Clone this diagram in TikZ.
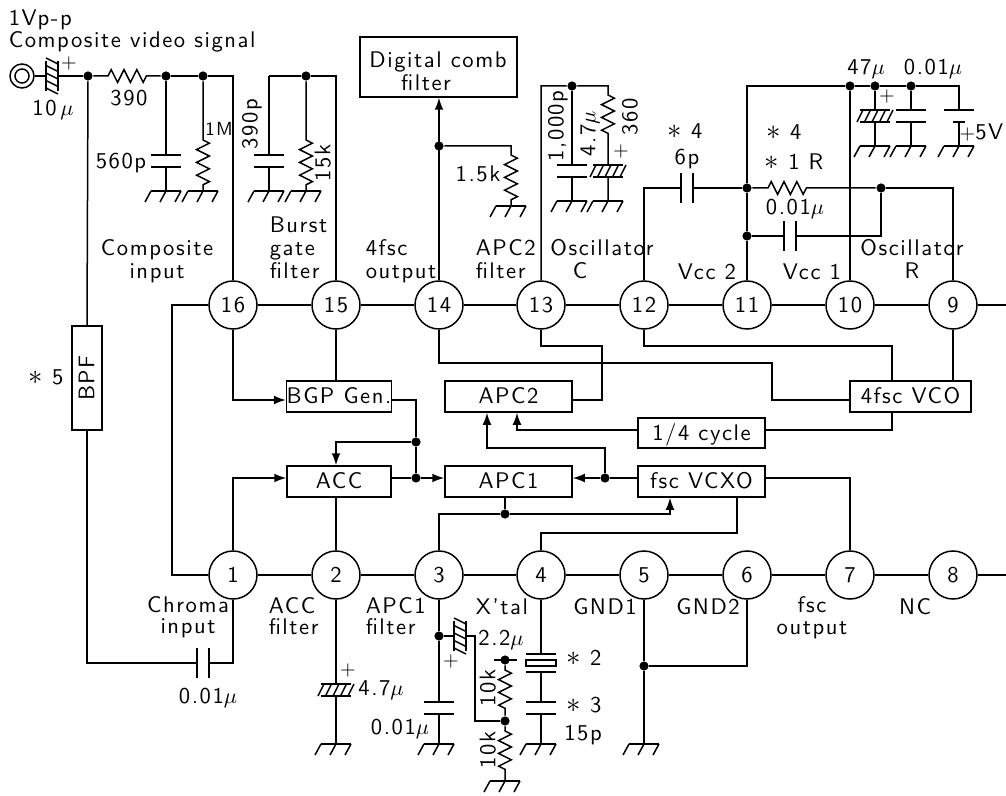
\documentclass[tikz,border=0pt]{standalone}
\usepackage{fontspec}
\setmainfont[LetterSpace=7]{lmsans10-regular.otf}
\usetikzlibrary{positioning,calc}
\usetikzlibrary{arrows.meta}
\usetikzlibrary{decorations.pathmorphing}
\newcommand{\um}{$\mu$}
\newcommand{\mstar}{{\fontsize{14}{14}\selectfont$\ast$}}
\tikzstyle{lab} = [inner sep=0pt, text height=7.4pt, text depth=0pt]
\tikzstyle{plusmark} = [inner sep=0pt, text height=4.8pt, text depth=0pt, font=\fontsize{10}{10}\selectfont]
\tikzstyle{pinnode} = [circle, draw=black, minimum size=24pt, inner sep=0pt, text height=7.4pt, text depth=0pt, fill=white]
\tikzstyle{blockbox} = [rectangle, draw=black, inner sep=0pt, text height=7.4pt, text depth=0pt]
\tikzstyle{dot} = [circle, fill=black, minimum size=4.6pt, inner sep=0pt]
\tikzstyle{arrow} = [->,>={Latex[length=6pt,width=4.4pt]}]
\tikzstyle{res} = [decoration={zigzag,amplitude=3.2pt,segment length=6.4pt}]
\tikzset{
	gnd/.pic={
		\draw (-15,0) -- (15,0);
		\draw (-15,0) -- (-21,11);
		\draw (0,0) -- (-6,11);
		\draw (15,0) -- (9,11);
	},
	capv/.pic={
		\fill[white] (-15,-5.5) rectangle (15,5.5);
		\draw (-15,-6) -- (15,-6);
		\draw (-15,6) -- (15,6);
	},
	elec/.pic={
		\fill[white] (-15,-5.5) rectangle (15,5.5);
		\draw (-15,-6) -- (15,-6);
		\draw (-15,6) -- (15,6);
		\foreach \s in {-15,-7.5,0,7.5,15}
			\draw (\s-3,6) -- (\s+3,-6);
	},
	xtal/.pic={
		\fill[white] (-15,-8.5) rectangle (15,8.5);
		\draw (-15,-9) -- (15,-9);
		\draw (-15,9) -- (15,9);
		\draw (-15,-3) rectangle (15,3);
	},
	batt/.pic={
		\fill[white] (-15,-5.5) rectangle (15,5.5);
		\draw (-15,-6) -- (15,-6);
		\draw (-6,6) -- (6,6);
	}
}

\begin{document}
\begin{tikzpicture}[x=0.5pt,y=-0.5pt,line width=0.75pt,every node/.style={font=\fontsize{11.3}{11.3}\selectfont}]
	\useasboundingbox (0,0) rectangle (1006,796);
	\foreach \n/\x in {16/233,15/336,14/439,13/541,12/644,11/747,10/850,9/953}
		\node (pin\n) at (\x,305) [pinnode] {\n};
	\foreach \n/\x in {1/233,2/336,3/439,4/541,5/644,6/747,7/850,8/953}
		\node (pin\n) at (\x,575) [pinnode] {\n};
	\foreach \a/\b in {16/15,15/14,14/13,13/12,12/11,11/10,10/9,1/2,2/3,3/4,4/5,5/6,6/7,7/8}
		\draw (pin\a) -- (pin\b);
	\coordinate (edgeT) at (1006,305);
	\coordinate (edgeB) at (1006,575);
	\coordinate (railL) at (172,305);
	\draw (pin9) -- (edgeT);
	\draw (pin8) -- (edgeB);
	\draw (pin16) -- (railL) |- (pin1);
	
	\node (bgp) at (339,396.5) [blockbox, minimum width=52pt, minimum height=15.5pt] {BGP Gen.};
	\node (apc2) at (508.5,396.5) [blockbox, minimum width=63.5pt, minimum height=15.5pt] {APC2};
	\node (acc) at (339,481.5) [blockbox, minimum width=52pt, minimum height=15.5pt] {ACC};
	\node (apc1) at (508.5,481.5) [blockbox, minimum width=63.5pt, minimum height=15.5pt] {APC1};
	\node (cycle) at (701.5,433) [blockbox, minimum width=63.5pt, minimum height=15pt] {1/4 cycle};
	\node (vcxo) at (701.5,481.5) [blockbox, minimum width=63.5pt, minimum height=15.5pt] {fsc VCXO};
	\node (vco) at (910.5,396.5) [blockbox, minimum width=60.5pt, minimum height=15.5pt] {4fsc VCO};
	\node (comb) at (438.5,67) [rectangle, draw=black, minimum width=78.5pt, minimum height=30pt] {};
	\node (combA) at (438,60) [lab] {Digital comb};
	\node (combB) at (426,83) [lab] {filter};
	
	\coordinate (ya) at (0,400);
	\coordinate (yb) at (0,478);
	\node (d1) at (416,442) [dot] {};
	\node (d2) at (416,478) [dot] {};
	\node (d3) at (605,478) [dot] {};
	\node (d4) at (505,514) [dot] {};
	\coordinate (a1) at (487,448);
	\coordinate (a2) at (517,430);
	\coordinate (a3) at (670,514);
	\coordinate (a4) at (737,533);
	\coordinate (a5) at (772,363);
	\coordinate (a6) at (892,346);
	\coordinate (a7) at (602,346);
	\draw[arrow] (pin16.south) |- (bgp.west |- ya);
	\draw (pin15.south) -- (pin15.south |- bgp.north);
	\draw (bgp.east |- ya) -| (d1) -- (d2);
	\draw[arrow] (d1) -| (pin2 |- acc.north);
	\draw[arrow] (pin1.north) |- (acc.west |- yb);
	\draw (acc.east |- yb) -- (d2);
	\draw[arrow] (d2) -- (apc1.west |- yb);
	\draw (pin2 |- acc.south) -- (pin2.north);
	\draw[arrow] (vcxo.west |- yb) -- (d3) -- (apc1.east |- yb);
	\draw[arrow] (d3) |- (a1) -- (a1 |- apc2.south);
	\draw[arrow] (cycle.west |- a2) -- (a2) -- (a2 |- apc2.south);
	\draw (cycle.east |- a2) -| (vco.south -| a6);
	\draw (apc1.south -| d4) -- (d4);
	\draw (pin3.north) |- (d4);
	\draw[arrow] (d4) -- (a3) -- (a3 |- vcxo.south);
	\draw (pin4.north) |- (a4) -- (a4 |- vcxo.south);
	\draw (vcxo.east |- yb) -| (pin7.north);
	\draw (pin12.south) |- (a6) -- (a6 |- vco.north);
	\draw (pin9.south) -- (pin9.south |- vco.north);
	\draw (vco.west |- ya) -| (a5) -| (pin14.south);
	\draw (apc2.east |- ya) -| (a7) -| (pin13.south);
	
	\node (jack) at (22,76) [circle, draw=black, minimum size=12pt, inner sep=0pt] {};
	\node (jackin) at (22,76) [circle, draw=black, minimum size=7pt, inner sep=0pt] {};
	\node (d5) at (88,76) [dot] {};
	\node (d6) at (166,76) [dot] {};
	\node (d7) at (203,76) [dot] {};
	\node (d8) at (306,76) [dot] {};
	\node (bpf) at (87,378) [rectangle, draw=black, fill=white, minimum width=15pt, minimum height=52pt] {};
	\node (bpft) at (87,378) [lab, rotate=90] {BPF};
	\coordinate (c1) at (233,663);
	\coordinate (c2) at (233,76);
	\coordinate (c3) at (269,76);
	\coordinate (c4) at (336,76);
	\draw (jack) -- (d5);
	\draw (d5) -- (108,76) decorate[res] {-- (152,76)} -- (d6);
	\draw (d6) -- (d7) -- (c2) -- (pin16.north);
	\draw (d5) -- (bpf.north);
	\draw (bpf.south) |- (c1) -- (pin1.south);
	\draw (pin15.north) -- (c4) -- (d8) -- (c3);
	\foreach \n/\x/\y in {a/166/191,b/203/191,c/269/191,d/306/191,e/511/206,f/572/201,g/608/201,h/875/146,i/911/146,j/959/146,k/336/744,l/439/744,m/541/744,n/644/744,o/505/781}{
		\coordinate (g\n) at (\x,\y);
		\pic at (g\n) {gnd};
	}
	\draw (d6) -- (ga);
	\draw (d7) -- (203,140) decorate[res] {-- (203,185)} -- (gb);
	\draw (c3) -- (gc);
	\draw (d8) -- (306,140) decorate[res] {-- (306,185)} -- (gd);
	\pic at (166,161) {capv};
	\pic at (269,161) {capv};
	\pic[rotate=90] at (52,76) {elec};
	\pic[rotate=90] at (203,663) {capv};
	
	\node (d9) at (439,146) [dot] {};
	\coordinate (c5) at (511,146);
	\draw[arrow] (pin14.north) -- (pin14.north |- comb.south);
	\draw (d9) -- (c5) -- (511,155) decorate[res] {-- (511,200)} -- (ge);
	\node (d10) at (572,86) [dot] {};
	\coordinate (c6) at (541,86);
	\coordinate (c7) at (608,86);
	\draw (pin13.north) -- (c6) -- (d10) -- (c7) -- (608,95) decorate[res] {-- (608,137)} -- (gg);
	\draw (d10) -- (gf);
	\pic at (572,171) {capv};
	\pic at (608,171) {elec};
	
	\node (d11) at (747,188) [dot] {};
	\node (d12) at (881,188) [dot] {};
	\node (d13) at (747,236) [dot] {};
	\node (d14) at (850,86) [dot] {};
	\node (d15) at (875,86) [dot] {};
	\node (d16) at (911,86) [dot] {};
	\coordinate (c8) at (747,86);
	\coordinate (c9) at (959,86);
	\draw (pin12.north) |- (d11);
	\draw (d11) -- (768,188) decorate[res] {-- (812,188)} -- (d12);
	\draw (d12) -| (pin9.north);
	\draw (d12) |- (d13);
	\draw (pin11.north) -- (d13) -- (d11) -- (c8) -- (d14) -- (d15) -- (d16) -- (c9) -- (gj);
	\draw (d14) -- (pin10.north);
	\draw (d15) -- (gh);
	\draw (d16) -- (gi);
	\pic[rotate=90] at (687,188) {capv};
	\pic[rotate=90] at (790,236) {capv};
	\pic at (875,116) {elec};
	\pic at (911,116) {capv};
	\pic at (959,116) {batt};
	
	\node (d17) at (439,636) [dot] {};
	\node (d18) at (505,660) [dot] {};
	\node (d19) at (505,721) [dot] {};
	\node (d20) at (644,666) [dot] {};
	\coordinate (c10) at (475,636);
	\coordinate (c11) at (494,660);
	\coordinate (c12) at (517,660);
	\draw (pin2.south) -- (gk);
	\draw (pin3.south) -- (d17) -- (gl);
	\draw (pin4.south) -- (gm);
	\draw (pin5.south) -- (d20) -- (gn);
	\draw (d20) -| (pin6.south);
	\draw (d17) -- (c10) |- (d19);
	\draw (c11) -- (c12);
	\draw (d18) -- (505,670) decorate[res] {-- (505,712)} -- (d19);
	\draw (d19) -- (505,731) decorate[res] {-- (505,773)} -- (go);
	\pic at (336,690) {elec};
	\pic at (439,708) {capv};
	\pic[rotate=90] at (460,636) {elec};
	\pic at (541,663) {xtal};
	\pic at (541,708) {capv};
	
	\node (t1) at (8,18) [lab, anchor=west] {1Vp-p};
	\node (t2) at (8,40) [lab, anchor=west] {Composite video signal};
	\node (t3) at (69,64) [plusmark] {+};
	\node (t4) at (53,108) [lab] {10\,\um};
	\node (t5) at (129,98) [lab] {390};
	\node (t6) at (121,161) [lab] {560p};
	\node (t7) at (219,128) [lab, font=\fontsize{9.5}{9.5}\selectfont] {1M};
	\node (t8) at (250,124) [lab, rotate=90] {390p};
	\node (t9) at (323,163) [lab, rotate=90] {15k};
	\node (t10) at (157,248) [lab] {Composite};
	\node (t11) at (157,271) [lab] {input};
	\node (t12) at (269,225) [lab, anchor=west] {Burst};
	\node (t13) at (269,248) [lab, anchor=west] {gate};
	\node (t14) at (269,271) [lab, anchor=west] {filter};
	\node (t15) at (365,248) [lab, anchor=west] {4fsc};
	\node (t16) at (365,271) [lab, anchor=west] {output};
	\node (t17) at (478,174) [lab] {1.5k};
	\node (t18) at (475,248) [lab, anchor=west] {APC2};
	\node (t19) at (475,271) [lab, anchor=west] {filter};
	\node (t20) at (602,248) [lab] {Oscillator};
	\node (t21) at (580,271) [lab] {C};
	\node (t22) at (556,126) [lab, rotate=90] {1,000p};
	\node (t23) at (588,134) [lab, rotate=90] {4.7\um};
	\node (t24) at (630,117) [lab, rotate=90] {360};
	\node (t25) at (621,152) [plusmark] {+};
	\node (t26) at (685,131) [lab] {\mstar\ 4};
	\node (t27) at (687,157) [lab] {6p};
	\node (t28) at (784,132) [lab] {\mstar\ 4};
	\node (t29) at (794,162) [lab] {\mstar\ 1 R};
	\node (t30) at (795,207) [lab] {0.01\um};
	\node (t31) at (707,272) [lab] {Vcc 2};
	\node (t32) at (812,272) [lab] {Vcc 1};
	\node (t33) at (912,248) [lab] {Oscillator};
	\node (t34) at (912,271) [lab] {R};
	\node (t35) at (866,67) [lab] {47\um};
	\node (t36) at (933,67) [lab] {0.01\um};
	\node (t37) at (887,97) [plusmark] {+};
	\node (t38) at (1004,132) [lab, anchor=east] {{\fontsize{10}{10}\selectfont +}5V};
	\node (t39) at (46,377) [lab] {\mstar\ 5};
	\node (t40) at (208,696) [lab] {0.01\um};
	\node (t41) at (188,605) [lab] {Chroma};
	\node (t42) at (188,626) [lab] {input};
	\node (t43) at (268,606) [lab, anchor=west] {ACC};
	\node (t44) at (268,627) [lab, anchor=west] {filter};
	\node (t45) at (365,606) [lab, anchor=west] {APC1};
	\node (t46) at (365,627) [lab, anchor=west] {filter};
	\node (t47) at (502,607) [lab] {X'tal};
	\node (t48) at (605,607) [lab] {GND1};
	\node (t49) at (708,607) [lab] {GND2};
	\node (t50) at (812,605) [lab] {fsc};
	\node (t51) at (812,627) [lab] {output};
	\node (t52) at (915,607) [lab] {NC};
	\node (t53) at (348,671) [plusmark] {+};
	\node (t54) at (381,688) [lab] {4.7\um};
	\node (t55) at (400,727) [lab] {0.01\um};
	\node (t56) at (451,662) [plusmark] {+};
	\node (t57) at (501,638) [lab] {2.2\um};
	\node (t58) at (488,688) [lab, rotate=90] {10k};
	\node (t59) at (488,750) [lab, rotate=90] {10k};
	\node (t60) at (584,658) [lab] {\mstar\ 2};
	\node (t61) at (584,705) [lab] {\mstar\ 3};
	\node (t62) at (583,733) [lab] {15p};
\end{tikzpicture}
\end{document}
